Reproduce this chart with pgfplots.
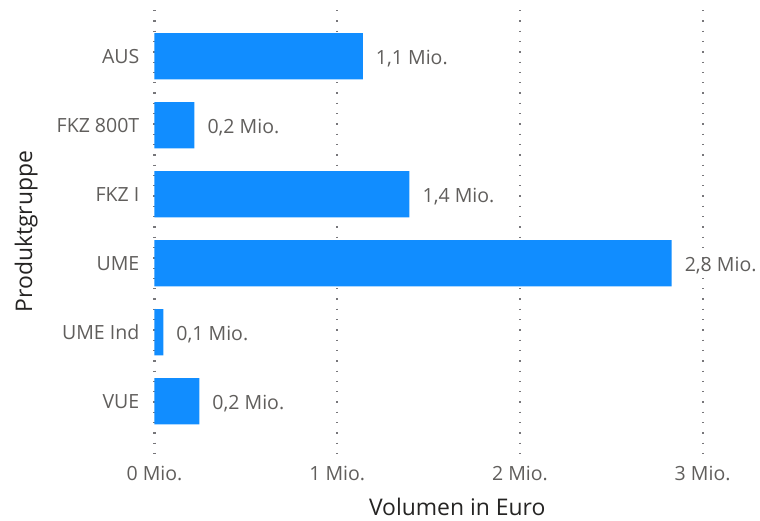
\documentclass[border=0pt]{standalone}
\usepackage{fontspec}
\setmainfont{Open Sans}
\usepackage{pgfplots}
\usepackage{pgfplotstable}
\pgfplotsset{compat=1.18}

\definecolor{barblue}{HTML}{118DFF}
\definecolor{ticktext}{HTML}{605E5C}
\definecolor{titletext}{HTML}{252423}
\definecolor{gridgray}{HTML}{77767A}

% y = row (0 at top), x = volume in Mio. Euro, lab = data label
\pgfplotstableread[col sep=semicolon]{
y;x;lab
0;1.14;1,1 Mio.
1;0.218;0,2 Mio.
2;1.395;1,4 Mio.
3;2.83;2,8 Mio.
4;0.048;0,1 Mio.
5;0.245;0,2 Mio.
}\volumen

\begin{document}
\begin{tikzpicture}
\useasboundingbox (-154.5bp,-68bp) rectangle (605.5bp,453bp);
\begin{axis}[
    at={(0,0)}, anchor=south west,
    scale only axis,
    width=605.5bp, height=443bp,
    xbar,
    bar width=46.3bp,
    y dir=reverse,
    xmin=0, xmax=3.314,
    ymin=-0.67, ymax=5.75,
    xtick={0,1,2,3},
    xticklabels={0 Mio.,1 Mio.,2 Mio.,3 Mio.},
    ytick={0,1,2,3,4,5},
    yticklabels={AUS,FKZ 800T,FKZ I,UME,UME Ind,VUE},
    axis line style={draw=none},
    major tick length=0pt,
    tick style={draw=none},
    xmajorgrids=true,
    grid style={gridgray, line width=2.2bp, dash pattern=on 1.3bp off 9bp},
    ticklabel style={font=\fontsize{19.6}{22}\selectfont, text=ticktext, inner sep=0pt},
    xticklabel style={anchor=base, yshift=-27bp},
    yticklabel style={anchor=base east, xshift=-15bp, yshift=-7.5bp},
    xlabel={Volumen in Euro},
    ylabel={Produktgruppe},
    label style={font=\fontsize{23}{26}\selectfont, text=titletext, inner sep=0pt},
    xlabel style={at={(axis description cs:0.5,-0.13995)}, anchor=base},
    ylabel style={at={(axis description cs:-0.2023,0.5)}, anchor=base, rotate=0},
    point meta=explicit symbolic,
    nodes near coords,
    nodes near coords style={anchor=base west, inner sep=0pt, xshift=13bp, yshift=-8bp,
        font=\fontsize{19.6}{22}\selectfont, text=ticktext},
]
\addplot[fill=barblue, draw=none] table[x=x, y=y, meta=lab] {\volumen};
\end{axis}
\end{tikzpicture}
\end{document}
